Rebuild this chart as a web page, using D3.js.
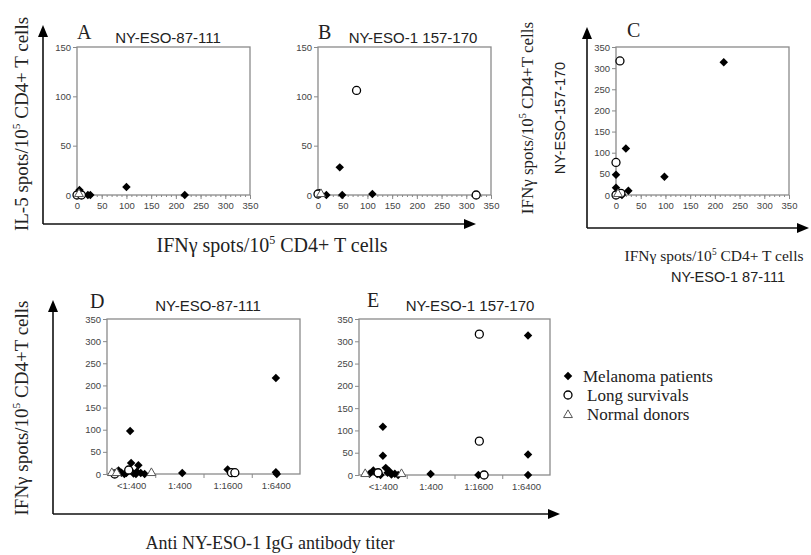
<!DOCTYPE html>
<html>
<head>
<meta charset="utf-8">
<script src="https://cdn.jsdelivr.net/npm/d3@7"></script>
<style>
  body { margin: 0; background: #fff; }
  svg { display: block; }
  .tick text { font-family: "Liberation Sans", Arial, sans-serif; font-size: 9.5px; fill: #444; }
  .tick line, .domain { stroke: #8a8a8a; }
</style>
</head>
<body>
<svg width="811" height="555"></svg>
<script>
// ---- data ----
var spotTicks = [0, 50, 100, 150, 200, 250, 300, 350];
var il5Ticks = [0, 50, 100, 150];
var titres = ["<1:400", "1:400", "1:1600", "1:6400"];

// A: x = IFNg 87-111, y = IL-5
var aMelanoma = [[100, 8], [218, 0], [22, 0], [27, 0], [5, 5]];
var aLong = [[0, 0], [9, 0]];
var aNormal = [[4, 0]];

// B: x = IFNg 157-170, y = IL-5
var bMelanoma = [[44, 28], [17, 0], [49, 0], [110, 1], [3, 2]];
var bLong = [[78, 106], [320, 0], [0, 1]];
var bNormal = [[6, 0]];

// C: x = IFNg 87-111, y = IFNg 157-170
var cMelanoma = [[218, 314], [20, 110], [98, 43], [0, 48], [0, 17], [25, 10], [12, 0], [3, 3]];
var cLong = [[8, 317], [0, 77], [10, 4], [0, 0]];
var cNormal = [[4, 0]];

// D: titre index + jitter, IFNg 87-111
var dMelanoma = [[0, -0.02, 97], [0, 0.0, 25], [0, 0.15, 20], [0, -0.26, 8], [0, -0.2, 3],
  [0, -0.1, 2], [0, 0.05, 1], [0, 0.1, 0], [0, 0.2, 2], [0, 0.28, 0], [0, -0.14, 0], [0, 0.12, 5],
  [1, 0.06, 2], [2, 0.0, 10], [3, 0.0, 217], [3, 0.0, 4], [3, 0.02, 0]];
var dLong = [[0, -0.05, 9], [0, -0.34, 0], [2, 0.08, 3], [2, 0.15, 3]];
var dNormal = [[0, -0.4, 0], [0, -0.3, 0], [0, 0.42, 0]];

// E: titre index + jitter, IFNg 157-170
var eMelanoma = [[0, 0.0, 108], [0, 0.0, 43], [0, 0.06, 16], [0, -0.2, 10], [0, -0.28, 3],
  [0, -0.12, 2], [0, 0.1, 5], [0, 0.18, 1], [0, 0.25, 3], [0, 0.32, 0], [0, -0.05, 0], [0, 0.14, 8],
  [1, 0.0, 2], [2, 0.0, 0], [3, 0.04, 313], [3, 0.04, 46], [3, 0.04, 0]];
var eLong = [[0, -0.1, 5], [2, 0.02, 316], [2, 0.02, 76], [2, 0.12, 0]];
var eNormal = [[0, -0.37, 0], [0, 0.39, 0]];

var legendNames = ["Melanoma patients", "Long survivals", "Normal donors"];

// ---- drawing ----
var svg = d3.select("svg");
var serif = "'Liberation Serif', 'Times New Roman', serif";
var sans = "'Liberation Sans', Arial, sans-serif";

var triangle = d3.symbol().type(d3.symbolTriangle).size(34);

var drawMarks = function(g, pts, kind, x, y)
{
    var sel = g.selectAll(null).data(pts).enter();
    if (kind == "melanoma") {
        sel.append("path")
            .attr("d", d3.symbol().type(d3.symbolSquare).size(36))
            .attr("transform", function(d){ return "translate(" + x(d) + "," + y(d) + ") rotate(45)"; })
            .attr("fill", "#000");
    } else if (kind == "long") {
        sel.append("circle")
            .attr("cx", x).attr("cy", y).attr("r", 4)
            .attr("fill", "#fff").attr("stroke", "#000").attr("stroke-width", 1.3);
    } else {
        sel.append("path")
            .attr("d", triangle)
            .attr("transform", function(d){ return "translate(" + x(d) + "," + (y(d) - 1) + ")"; })
            .attr("fill", "#fff").attr("stroke", "#555").attr("stroke-width", 1);
    }
}

var drawFrame = function(xScale, yScale, yTicks)
{
    var g = svg.append("g");
    var x0 = xScale.range()[0], x1 = xScale.range()[1];
    var y0 = yScale.range()[0], y1 = yScale.range()[1];
    g.append("rect")
        .attr("x", x0).attr("y", y1)
        .attr("width", x1 - x0).attr("height", y0 - y1)
        .attr("fill", "none").attr("stroke", "#8a8a8a").attr("stroke-width", 1.3);
    g.append("g")
        .attr("transform", "translate(" + x0 + ",0)")
        .call(d3.axisLeft(yScale).tickValues(yTicks).tickSize(4).tickSizeOuter(0).tickPadding(2))
        .call(function(a){ a.select(".domain").remove(); });
    return g;
}

var scatterPanel = function(xr, yr, yTicks, yMax, sets)
{
    var xScale = d3.scaleLinear().domain([0, 350]).range(xr);
    var yScale = d3.scaleLinear().domain([0, yMax]).range(yr);
    var g = drawFrame(xScale, yScale, yTicks);
    g.append("g")
        .attr("transform", "translate(0," + yr[0] + ")")
        .call(d3.axisBottom(xScale).tickValues(d3.range(0, 351, 10)).tickSize(2)
              .tickFormat(function(){ return ""; }))
        .call(function(a){ a.select(".domain").remove(); });
    g.append("g")
        .attr("transform", "translate(0," + yr[0] + ")")
        .call(d3.axisBottom(xScale).tickValues(spotTicks).tickSize(4).tickPadding(3))
        .call(function(a){ a.select(".domain").remove(); });
    var mx = function(d){ return xScale(d[0]); };
    var my = function(d){ return yScale(d[1]); };
    drawMarks(g, sets[0], "melanoma", mx, my);
    drawMarks(g, sets[1], "long", mx, my);
    drawMarks(g, sets[2], "normal", mx, my);
}

var titrePanel = function(xr, yr, sets)
{
    var xScale = d3.scaleLinear().domain([-0.5, 3.5]).range(xr);
    var yScale = d3.scaleLinear().domain([0, 350]).range(yr);
    var g = drawFrame(xScale, yScale, spotTicks);
    g.append("g")
        .attr("transform", "translate(0," + yr[0] + ")")
        .call(d3.axisBottom(xScale).tickValues([0.5, 1.5, 2.5]).tickSize(4)
              .tickFormat(function(){ return ""; }))
        .call(function(a){ a.select(".domain").remove(); });
    g.append("g")
        .attr("transform", "translate(0," + yr[0] + ")")
        .call(d3.axisBottom(xScale).tickValues([0, 1, 2, 3]).tickSize(0).tickPadding(8)
              .tickFormat(function(i){ return titres[i]; }))
        .call(function(a){ a.select(".domain").remove(); });
    var mx = function(d){ return xScale(d[0] + d[1]); };
    var my = function(d){ return yScale(d[2]); };
    drawMarks(g, sets[0], "melanoma", mx, my);
    drawMarks(g, sets[1], "long", mx, my);
    drawMarks(g, sets[2], "normal", mx, my);
}

scatterPanel([77, 250], [195, 47], il5Ticks, 150, [aMelanoma, aLong, aNormal]);
scatterPanel([318, 491], [195, 47], il5Ticks, 150, [bMelanoma, bLong, bNormal]);
scatterPanel([616, 789], [195, 47], spotTicks, 350, [cMelanoma, cLong, cNormal]);
titrePanel([107, 300], [474, 319], [dMelanoma, dLong, dNormal]);
titrePanel([359, 550], [475, 319], [eMelanoma, eLong, eNormal]);

// big arrow axes
var arrowAxis = function(ox, oy, topY, rightX)
{
    var g = svg.append("g");
    g.append("line").attr("x1", ox).attr("y1", oy).attr("x2", ox).attr("y2", topY + 10)
        .attr("stroke", "#111").attr("stroke-width", 1.6);
    g.append("line").attr("x1", ox).attr("y1", oy).attr("x2", rightX - 10).attr("y2", oy)
        .attr("stroke", "#111").attr("stroke-width", 1.6);
    g.append("path").attr("d", "M" + ox + "," + topY + "L" + (ox - 5) + "," + (topY + 12) + "L" + (ox + 5) + "," + (topY + 12) + "Z")
        .attr("fill", "#000");
    g.append("path").attr("d", "M" + rightX + "," + oy + "L" + (rightX - 12) + "," + (oy - 5) + "L" + (rightX - 12) + "," + (oy + 5) + "Z")
        .attr("fill", "#000");
}
arrowAxis(43, 224, 25, 476);
arrowAxis(587, 228, 27, 809);
arrowAxis(53, 514, 300, 560);

// text helpers
var addText = function(x, y, str, font, size, anchor)
{
    return svg.append("text").attr("x", x).attr("y", y)
        .attr("font-family", font).attr("font-size", size)
        .attr("text-anchor", anchor || "start").attr("fill", "#222")
        .text(str);
}
var spotsLabel = function(x, y, pre, post, size, rotate)
{
    var t = svg.append("text")
        .attr("font-family", serif).attr("font-size", size).attr("fill", "#222")
        .attr("text-anchor", "middle");
    if (rotate) t.attr("transform", "translate(" + x + "," + y + ") rotate(-90)");
    else t.attr("x", x).attr("y", y);
    t.append("tspan").text(pre);
    t.append("tspan").attr("dy", -size * 0.4).attr("font-size", size * 0.6).text("5");
    t.append("tspan").attr("dy", size * 0.4).text(post);
}

// panel letters and titles
addText(77, 39, "A", serif, 20);
addText(168, 43, "NY-ESO-87-111", sans, 15, "middle");
addText(318, 39, "B", serif, 20);
addText(413, 43, "NY-ESO-1 157-170", sans, 15, "middle");
addText(627, 37, "C", serif, 20);
addText(90, 308, "D", serif, 20);
addText(208, 311, "NY-ESO-87-111", sans, 15, "middle");
addText(367, 307, "E", serif, 20);
addText(470, 311, "NY-ESO-1 157-170", sans, 15, "middle");

// axis labels
spotsLabel(28, 124, "IL-5 spots/10", " CD4+ T cells", 19, true);
spotsLabel(272, 252, "IFN\u03b3 spots/10", " CD4+ T cells", 20, false);
spotsLabel(533, 118, "IFN\u03b3 spots/10", " CD4+T cells", 17, true);
svg.append("text")
    .attr("transform", "translate(565,118) rotate(-90)")
    .attr("font-family", sans).attr("font-size", 14.5).attr("fill", "#222")
    .attr("text-anchor", "middle").text("NY-ESO-157-170");
spotsLabel(714, 261, "IFN\u03b3 spots/10", " CD4+ T cells", 15.5, false);
addText(728, 282, "NY-ESO-1 87-111", sans, 14.5, "middle");
spotsLabel(28, 408, "IFN\u03b3 spots/10", " CD4+T cells", 19, true);
addText(270, 549, "Anti NY-ESO-1 IgG antibody titer", serif, 18, "middle");

// legend
var legendY = [382, 401, 420];
var legendX = [583, 587, 587];
var kinds = ["melanoma", "long", "normal"];
var lg = svg.append("g");
kinds.forEach(function(k, i){
    drawMarks(lg, [[568, legendY[i] - 6 + (i == 2 ? 2 : 0)]], k,
        function(d){ return d[0]; }, function(d){ return d[1]; });
    addText(legendX[i], legendY[i], legendNames[i], serif, 17);
});
</script>
</body>
</html>
